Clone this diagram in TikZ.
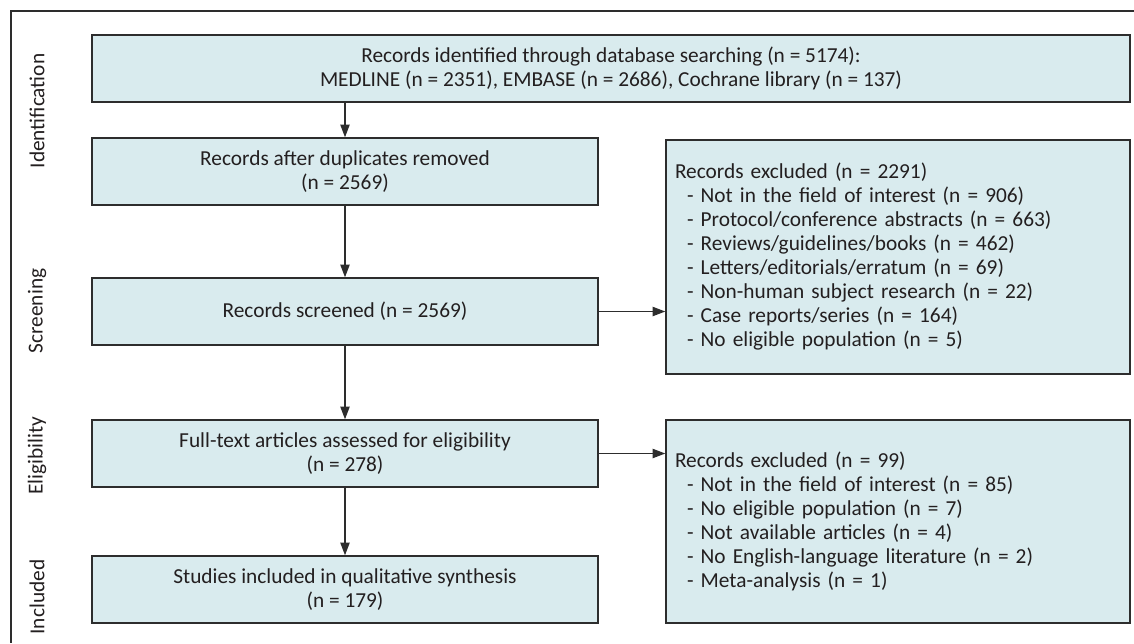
\documentclass[tikz,border=0pt]{standalone}
\usepackage{fontspec}
\setmainfont{Carlito}
\usetikzlibrary{arrows.meta}
\newdimen\pxu \pxu=0.75pt
\definecolor{boxfill}{RGB}{217,235,238}
\definecolor{boxline}{RGB}{45,45,45}
\definecolor{txt}{RGB}{35,31,32}
\begin{document}
\begin{tikzpicture}[x=0.75pt,y=-0.75pt,
  every node/.style={font=\fontsize{16}{18}\selectfont, text=txt},
  flowbox/.style={draw=boxline, fill=boxfill, line width=1.1pt, align=center, inner sep=0pt, minimum height=67\pxu},
  exbox/.style={draw=boxline, fill=boxfill, line width=1.1pt, align=left, inner xsep=9\pxu, inner ysep=0pt, text width=446\pxu},
  arr/.style={draw=boxline, line width=0.9pt, -{Triangle[length=9.5pt,width=7pt]}},
  phase/.style={rotate=90, inner sep=0pt},
  frameline/.style={draw=boxline, line width=1pt}
]
\useasboundingbox (0,0) rectangle (1134,643);
\draw[frameline] (1134,11) -- (11,11) -- (11,643);

\node[phase] (pid) at (37,111) {Identification};
\node[phase] (psc) at (37,311) {Screening};
\node[phase] (pel) at (37,456) {Eligibility};
\node[phase] (pin) at (37,597) {Included};

\node[flowbox, minimum width=1038\pxu] (b1) at (611,68.5) {Records identified through database searching (n = 5174):\\MEDLINE (n = 2351), EMBASE (n = 2686), Cochrane library (n = 137)};
\node[flowbox, minimum width=506\pxu] (b2) at (345,171.5) {Records after duplicates removed\\(n = 2569)};
\node[flowbox, minimum width=506\pxu] (b3) at (345,311.5) {Records screened (n = 2569)};
\node[flowbox, minimum width=506\pxu] (b4) at (345,453.5) {Full-text articles assessed for eligibility\\(n = 278)};
\node[flowbox, minimum width=506\pxu] (b5) at (345,589.5) {Studies included in qualitative synthesis\\(n = 179)};

\node[exbox, minimum height=234\pxu] (e1) at (898,257) {Records excluded (n = 2291)\\
\hspace*{9pt}- Not in the field of interest (n = 906)\\
\hspace*{9pt}- Protocol/conference abstracts (n = 663)\\
\hspace*{9pt}- Reviews/guidelines/books (n = 462)\\
\hspace*{9pt}- Letters/editorials/erratum (n = 69)\\
\hspace*{9pt}- Non-human subject research (n = 22)\\
\hspace*{9pt}- Case reports/series (n = 164)\\
\hspace*{9pt}- No eligible population (n = 5)};
\node[exbox, minimum height=203\pxu] (e2) at (898,521.5) {Records excluded (n = 99)\\
\hspace*{9pt}- Not in the field of interest (n = 85)\\
\hspace*{9pt}- No eligible population (n = 7)\\
\hspace*{9pt}- Not available articles (n = 4)\\
\hspace*{9pt}- No English-language literature (n = 2)\\
\hspace*{9pt}- Meta-analysis (n = 1)};

\draw[arr] (b1.south -| b2) -- (b2);
\draw[arr] (b2) -- (b3);
\draw[arr] (b3) -- (b4);
\draw[arr] (b4) -- (b5);
\draw[arr] (b3) -- (b3 -| e1.west);
\draw[arr] (b4) -- (b4 -| e2.west);
\end{tikzpicture}
\end{document}
